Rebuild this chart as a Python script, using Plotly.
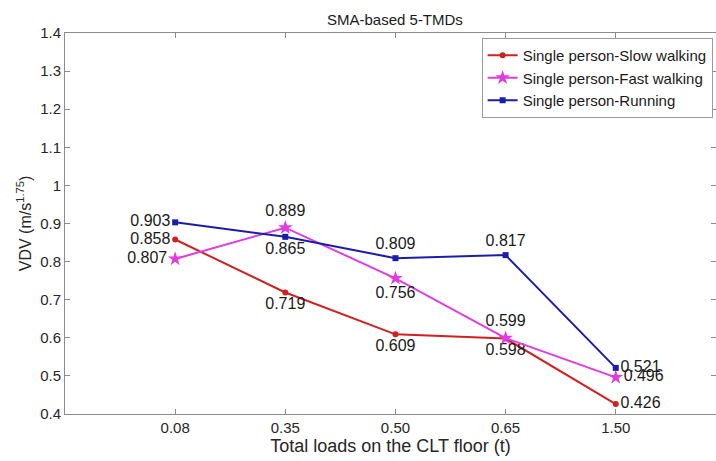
import plotly.graph_objects as go

categories = ["0.08", "0.35", "0.50", "0.65", "1.50"]
slow = [0.858, 0.719, 0.609, 0.598, 0.426]
fast = [0.807, 0.889, 0.756, 0.599, 0.496]
running = [0.903, 0.865, 0.809, 0.817, 0.521]

slow_pos = ["middle left", "bottom center", "bottom center", "bottom center", "middle right"]
fast_pos = ["middle left", "top center", "bottom center", "top center", "middle right"]
run_pos = ["middle left", "bottom center", "top center", "top center", "middle right"]

xpos = list(range(1, len(categories) + 1))
font = "Liberation Sans, Arial, sans-serif"

fig = go.Figure()
series = [
    ("Single person-Slow walking", slow, slow_pos, "#d02020", "circle", 6),
    ("Single person-Fast walking", fast, fast_pos, "#e03ce0", "star", 11),
    ("Single person-Running", running, run_pos, "#1c1caa", "square", 6),
]
for name, vals, pos, col, sym, ms in series:
    fig.add_trace(go.Scatter(
        x=xpos, y=vals, name=name, mode="lines+markers+text",
        text=[f"{v:.3f}" for v in vals], textposition=pos,
        textfont=dict(size=16, color="#1a1a1a", family=font),
        line=dict(color=col, width=2),
        marker=dict(symbol=sym, size=ms, color=col),
        cliponaxis=False,
    ))

yt = [0.4 + 0.1 * i for i in range(11)]
ytl = ["0.4", "0.5", "0.6", "0.7", "0.8", "0.9", "1", "1.1", "1.2", "1.3", "1.4"]

fig.update_layout(
    width=716, height=461,
    margin=dict(l=65, r=0, t=33, b=47),
    paper_bgcolor="white", plot_bgcolor="white",
    font=dict(family=font, size=15, color="#262626"),
    showlegend=True,
    legend=dict(x=0.64, y=0.987, xanchor="left", yanchor="top",
                bordercolor="#999999", borderwidth=1, bgcolor="white",
                font=dict(size=15, color="#1a1a1a"), tracegroupgap=0,
                itemwidth=30),
    xaxis=dict(range=[0, 5.91], tickvals=xpos, ticktext=categories,
               showgrid=False, zeroline=False, showline=True,
               linecolor="#8c8c8c", linewidth=1, mirror="ticks",
               ticks="inside", ticklen=5, tickcolor="#8c8c8c",
               tickfont=dict(size=15),
               title=dict(text="Total loads on the CLT floor (t)", font=dict(size=18), standoff=2)),
    yaxis=dict(range=[0.4, 1.4], tickvals=yt, ticktext=ytl,
               showgrid=False, zeroline=False, showline=True,
               linecolor="#8c8c8c", linewidth=1, mirror="ticks",
               ticks="inside", ticklen=5, tickcolor="#8c8c8c",
               tickfont=dict(size=15),
               title=dict(text="VDV (m/s<sup>1.75</sup>)", font=dict(size=16), standoff=4)),
    annotations=[dict(text="SMA-based 5-TMDs", xref="x", x=3, yref="paper", y=1.0,
                      yanchor="bottom", yshift=3, showarrow=False,
                      font=dict(size=15, color="#1a1a1a"))],
)

fig.write_html("out.html")
